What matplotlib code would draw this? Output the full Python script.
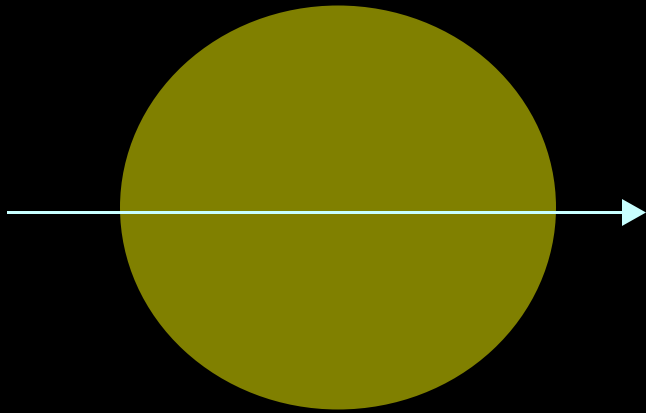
import matplotlib
matplotlib.use("Agg")
import matplotlib.pyplot as plt
from matplotlib.patches import Ellipse, FancyArrow

# Data (in pixel-like coordinate units)
ellipse_center = (338, 208.5)
ellipse_size = (436, 404)
arrow_start = (7, 213.5)
arrow_end = (646, 213.5)

fig = plt.figure(figsize=(6.46, 4.14), dpi=100)
fig.patch.set_facecolor("black")
ax = fig.add_axes([0, 0, 1, 1])
ax.set_facecolor("black")
ax.set_xlim(0, 646)
ax.set_ylim(414, 0)
ax.axis("off")

ax.add_patch(Ellipse(ellipse_center, ellipse_size[0], ellipse_size[1],
                     facecolor="#808000", edgecolor="none"))

dx = arrow_end[0] - arrow_start[0]
dy = arrow_end[1] - arrow_start[1]
ax.add_patch(FancyArrow(arrow_start[0], arrow_start[1], dx, dy,
                        width=3, head_width=27, head_length=24,
                        length_includes_head=True,
                        facecolor="#c8ffff", edgecolor="none"))

fig.savefig("out.png", dpi=100, facecolor="black")
